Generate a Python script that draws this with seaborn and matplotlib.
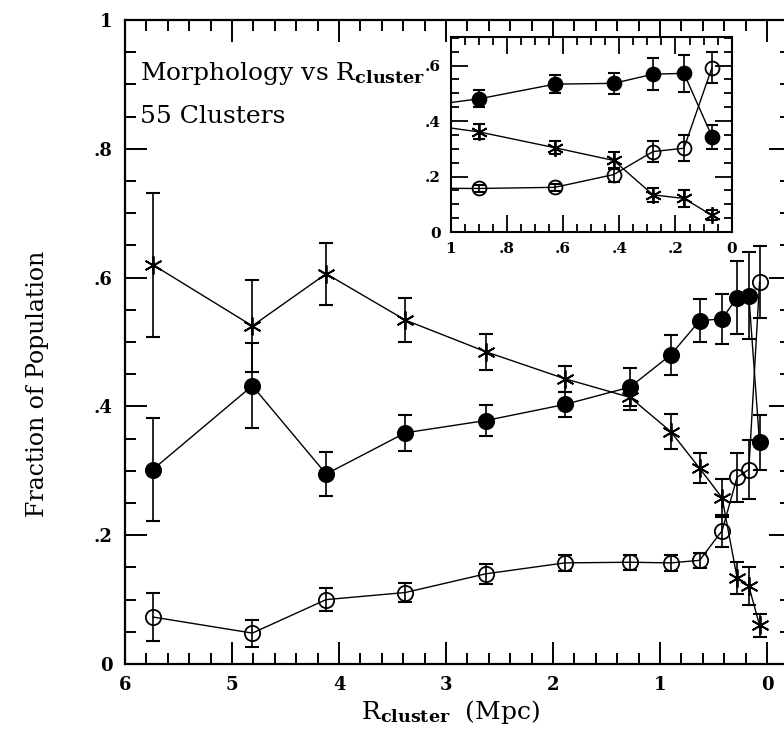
import numpy as np
import pandas as pd
import matplotlib
matplotlib.use("Agg")
import matplotlib.pyplot as plt
from matplotlib.ticker import MultipleLocator, FuncFormatter
import seaborn as sns

# values (cluster-centric radius in Mpc)
r_mpc = [5.74, 4.81, 4.12, 3.38, 2.63, 1.89, 1.28, 0.90, 0.63, 0.42, 0.28, 0.17, 0.07]

# spirals (asterisks)
frac_sp = [0.620, 0.525, 0.606, 0.534, 0.485, 0.443, 0.414, 0.361, 0.304, 0.258, 0.134, 0.121, 0.060]
err_sp = [0.112, 0.072, 0.048, 0.034, 0.028, 0.020, 0.020, 0.027, 0.023, 0.030, 0.025, 0.030, 0.018]

# S0s (filled circles)
frac_s0 = [0.302, 0.432, 0.295, 0.359, 0.378, 0.403, 0.430, 0.480, 0.533, 0.536, 0.569, 0.572, 0.344]
err_s0 = [0.080, 0.066, 0.034, 0.028, 0.024, 0.020, 0.030, 0.031, 0.033, 0.039, 0.057, 0.067, 0.043]

# ellipticals (open circles)
frac_e = [0.073, 0.048, 0.100, 0.111, 0.140, 0.157, 0.158, 0.157, 0.161, 0.207, 0.290, 0.302, 0.593]
err_e = [0.038, 0.021, 0.018, 0.015, 0.015, 0.012, 0.012, 0.012, 0.012, 0.025, 0.038, 0.046, 0.056]

df = pd.concat([
    pd.DataFrame({"R": r_mpc, "frac": frac_sp, "err": err_sp, "type": "S"}),
    pd.DataFrame({"R": r_mpc, "frac": frac_s0, "err": err_s0, "type": "S0"}),
    pd.DataFrame({"R": r_mpc, "frac": frac_e, "err": err_e, "type": "E"}),
], ignore_index=True)

# marker, face colour, size factor
styles = [("S", (6, 2, 0), "black", 1.2), ("S0", "o", "black", 1.0), ("E", "o", "none", 1.0)]

sns.set_style("ticks")
plt.rcParams["font.family"] = ["DejaVu Serif"]
plt.rcParams["mathtext.fontset"] = "dejavuserif"
for key in ["text.color", "axes.labelcolor", "xtick.color", "ytick.color", "axes.edgecolor"]:
    plt.rcParams[key] = "black"


def frac_label(v, pos):
    if abs(v) < 1e-9:
        return "0"
    if abs(v - round(v)) < 1e-9:
        return "%d" % round(v)
    return ("%.1f" % v).lstrip("0")


def draw(ax, ms, cap):
    for name, mk, fc, scale in styles:
        sub = df[df["type"] == name]
        ax.errorbar(sub["R"], sub["frac"], yerr=sub["err"], fmt="none",
                    ecolor="black", elinewidth=1.2, capsize=cap, capthick=1.5, zorder=2)
        sns.lineplot(data=sub, x="R", y="frac", ax=ax, color="black", lw=1.0,
                     marker=mk, ms=ms * scale, mfc=fc, mec="black", mew=1.3,
                     legend=False, errorbar=None, zorder=3)


fig = plt.figure(figsize=(7.84, 7.32), dpi=100)

# main panel
ax = fig.add_axes([125 / 784, 68 / 732, 666 / 784, 644 / 732])
draw(ax, ms=11, cap=5)
ax.set_xlim(6, -0.224)
ax.set_ylim(0, 1)
ax.xaxis.set_major_locator(MultipleLocator(1))
ax.xaxis.set_minor_locator(MultipleLocator(0.2))
ax.yaxis.set_major_locator(MultipleLocator(0.2))
ax.yaxis.set_minor_locator(MultipleLocator(0.05))
ax.xaxis.set_major_formatter(FuncFormatter(frac_label))
ax.yaxis.set_major_formatter(FuncFormatter(frac_label))
ax.tick_params(which="both", direction="in", top=True, right=True, width=1.4)
ax.tick_params(which="major", length=16, pad=9, labelsize=13)
ax.tick_params(which="minor", length=8)
for lab in ax.get_xticklabels() + ax.get_yticklabels():
    lab.set_fontweight("bold")
for sp in ax.spines.values():
    sp.set_linewidth(1.6)
ax.set_xlabel("")
ax.set_ylabel("")

ax.text(0.023, 0.907, r"Morphology vs R$_{\mathbf{cluster}}$", transform=ax.transAxes,
        fontsize=18, va="baseline", ha="left")
ax.text(0.023, 0.84, "55 Clusters", transform=ax.transAxes,
        fontsize=18, va="baseline", ha="left")

fig.text(38 / 784, (732 - 384) / 732, "Fraction of Population", rotation=90,
         fontsize=17, ha="center", va="center")
fig.text(451 / 784, (732 - 719) / 732, r"R$_{\mathbf{cluster}}$  (Mpc)",
         fontsize=18, ha="center", va="baseline")

# inset: inner 1 Mpc
axin = fig.add_axes([450.7 / 784, (732 - 232) / 732, 281 / 784, 194.7 / 732])
axin.set_facecolor("white")
draw(axin, ms=10, cap=4.5)
axin.set_xlim(1, 0)
axin.set_ylim(0, 0.702)
axin.xaxis.set_major_locator(MultipleLocator(0.2))
axin.xaxis.set_minor_locator(MultipleLocator(0.05))
axin.yaxis.set_major_locator(MultipleLocator(0.2))
axin.yaxis.set_minor_locator(MultipleLocator(0.05))
axin.xaxis.set_major_formatter(FuncFormatter(frac_label))
axin.yaxis.set_major_formatter(FuncFormatter(frac_label))
axin.tick_params(which="both", direction="in", top=True, right=True, width=1.3)
axin.tick_params(which="major", length=12, pad=7, labelsize=11)
axin.tick_params(which="minor", length=6)
for lab in axin.get_xticklabels() + axin.get_yticklabels():
    lab.set_fontweight("bold")
for sp in axin.spines.values():
    sp.set_linewidth(1.5)
axin.set_xlabel("")
axin.set_ylabel("")

fig.savefig("out.png", dpi=100)
